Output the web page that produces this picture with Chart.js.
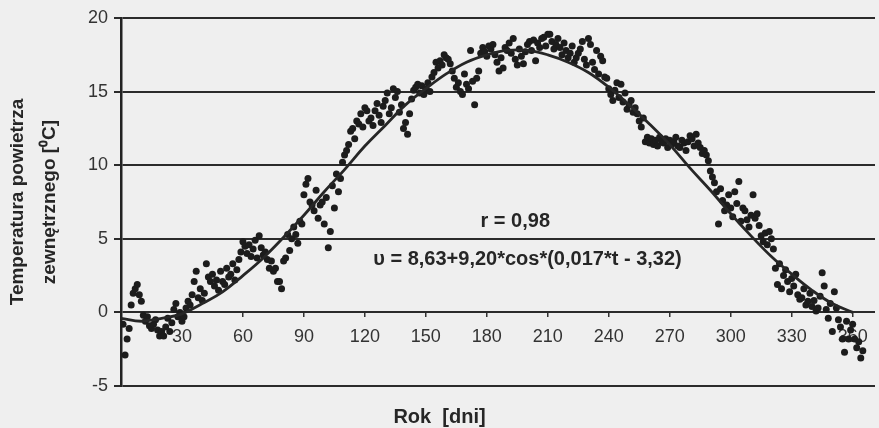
<!DOCTYPE html>
<html>
<head>
<meta charset="utf-8">
<script src="https://cdn.jsdelivr.net/npm/chart.js@4"></script>
<style>
    body { margin: 0; background: #efefef; }
    canvas { display: block; }
</style>
</head>
<body>
<canvas id="graph01" width="879" height="428"></canvas>
<script>
// mierzone temperatury dzienne, dzien 1..365
const tempDays = [
    -0.8, -2.9, -1.8, -1.1, 0.5, 1.3, 1.6, 1.9, 1.2, 0.75,
    -0.2, -0.6, -0.3, -0.9, -1.1, -0.8, -0.5, -1.2, -1.6, -1.3,
    -1.6, -1.0, -0.4, -1.3, -0.7, 0.2, 0.6, -0.3, 0.0, -0.6,
    -0.3, 0.3, 0.75, 0.5, 1.2, 2.1, 2.8, 1.0, 1.6, 0.8,
    1.3, 3.3, 2.4, 2.1, 2.6, 1.8, 2.2, 1.5, 2.8, 2.1,
    1.9, 3.0, 2.4, 2.6, 3.3, 2.2, 2.9, 3.6, 4.1, 4.8,
    4.5, 4.0, 4.6, 3.8, 4.3, 4.9, 3.7, 5.2, 4.4, 3.9,
    4.1, 3.6, 3.0, 3.5, 2.8, 3.0, 2.1, 2.1, 1.6, 3.5,
    3.7, 5.3, 4.2, 5.0, 5.8, 5.3, 4.7, 6.2, 6.0, 8.0,
    8.7, 9.1, 7.5, 7.3, 6.9, 8.3, 6.4, 7.3, 7.5, 6.0,
    7.8, 4.4, 5.5, 8.6, 7.1, 9.4, 8.2, 9.1, 10.2, 10.7,
    11.0, 11.4, 12.3, 12.5, 11.8, 13.0, 12.8, 13.5, 12.6, 13.9,
    13.7, 13.0, 13.2, 12.7, 13.7, 14.2, 13.4, 12.9, 14.0, 14.4,
    14.9, 13.5, 13.9, 15.2, 14.6, 15.0, 13.6, 14.1, 12.5, 12.9,
    12.1, 13.5, 14.5, 15.1, 15.3, 15.5, 14.9, 15.4, 14.8, 15.2,
    15.6, 15.0, 16.0, 16.3, 17.0, 16.6, 17.1, 16.8, 17.5, 17.3,
    17.2, 16.9, 16.4, 15.9, 15.3, 15.6, 15.0, 14.8, 16.2, 15.5,
    15.2, 17.8, 15.7, 14.1, 15.9, 16.4, 17.6, 18.0, 17.7, 17.4,
    18.1, 17.9, 18.2, 17.5, 17.0, 16.4, 17.3, 16.6, 18.0, 17.8,
    18.3, 17.6, 18.6, 17.2, 16.8, 17.9, 17.4, 16.9, 17.7, 18.2,
    18.4, 17.8, 18.5, 17.1, 18.3, 18.0, 18.6, 18.7, 18.1, 18.9,
    18.9, 18.4, 17.9, 18.2, 18.6, 18.0, 17.5, 18.3, 17.8, 17.3,
    17.6, 18.1, 17.0, 17.3, 17.6, 17.9, 18.4, 17.2, 16.8, 18.6,
    18.2, 17.0, 16.5, 17.8, 16.2, 17.4, 17.1, 16.0, 15.9, 15.2,
    14.8, 14.4, 15.1, 15.6, 14.6, 15.5, 14.3, 14.9, 13.8, 14.1,
    14.4, 13.6, 13.9, 13.5, 13.0, 12.6, 13.2, 11.6, 11.9, 11.5,
    11.8, 11.4, 11.7, 11.3, 11.9, 11.6, 11.5, 11.8, 11.2, 11.7,
    11.4, 11.6, 11.9, 11.3, 11.2, 11.7, 11.5, 11.0, 11.6, 12.0,
    11.8, 11.3, 12.1, 11.5, 11.2, 10.8, 11.0, 10.7, 10.3, 9.6,
    9.2, 8.8, 8.2, 6.0, 8.4, 7.6, 6.9, 7.3, 8.0, 7.1,
    6.5, 8.2, 7.4, 8.9, 6.2, 7.1, 6.9, 6.3, 5.8, 6.6,
    8.0, 6.4, 6.7, 5.9, 5.2, 4.8, 5.4, 4.6, 5.5, 5.0,
    4.3, 3.0, 1.9, 3.3, 1.6, 2.5, 2.9, 2.1, 1.4, 2.3,
    1.8, 2.6, 1.2, 0.9, 1.0, 1.6, 0.5, 0.75, 1.3, 0.4,
    0.8, 0.1, 0.3, 1.1, 2.7, 1.8, 0.2, -0.4, 0.6, -1.3,
    1.4, 0.3, -0.5, -1.0, -1.8, -2.7, -0.6, -1.8, -1.2, -0.8,
    -1.8, -2.4, -2.0, -3.1, -2.6
];

// krzywa dopasowana, odczytana co 10 dni
const fitDays = [0, 10, 20, 30, 40, 50, 60, 70, 80, 90, 100, 110, 120, 130, 140, 150, 160, 170, 180,
    190, 200, 210, 220, 230, 240, 250, 260, 270, 280, 290, 300, 310, 320, 330, 340, 350, 360];
const fitValues = [-0.4, -0.6, -0.4, -0.1, 0.6, 1.4, 2.5, 3.7, 5.1, 6.6, 8.2, 9.7, 11.3, 12.7, 14.1, 15.2, 16.2, 17.0, 17.5,
    17.8, 17.8, 17.5, 17.0, 16.3, 15.3, 14.1, 12.8, 11.4, 9.8, 8.3, 6.7, 5.2, 3.8, 2.6, 1.5, 0.6, 0.0];

const xTicks = [30, 60, 90, 120, 150, 180, 210, 240, 270, 300, 330, 360];
const yTicks = [-5, 0, 5, 10, 15, 20];

const rText = 'r = 0,98';
const eqText = 'υ = 8,63+9,20*cos*(0,017*t - 3,32)';

const FONT = '"Liberation Sans", Arial, sans-serif';
const INK = '#262626';

const graph = document.getElementById('graph01');

const points = tempDays.map((v, i) => ({ x: i + 1, y: v }));
const curve = fitDays.map((d, i) => ({ x: d, y: fitValues[i] }));

const labelsPlugin = {
    id: 'equationLabels',
    afterDatasetsDraw(chart) {
        const { ctx, scales } = chart;
        ctx.save();
        ctx.fillStyle = INK;
        ctx.font = 'bold 20px ' + FONT;
        ctx.textAlign = 'center';
        ctx.textBaseline = 'middle';
        ctx.fillText(rText, scales.x.getPixelForValue(194), scales.y.getPixelForValue(6.2));
        ctx.fillText(eqText, scales.x.getPixelForValue(200), scales.y.getPixelForValue(3.6));
        ctx.restore();
    }
};

new Chart(graph, {
    type: 'scatter',
    data: {
        datasets: [
            {
                type: 'line',
                data: curve,
                borderColor: INK,
                borderWidth: 2.8,
                pointRadius: 0,
                tension: 0.4,
                fill: false
            },
            {
                data: points,
                pointStyle: 'circle',
                pointRadius: 3.5,
                backgroundColor: '#1c1c1c',
                borderWidth: 0
            }
        ]
    },
    options: {
        responsive: false,
        animation: false,
        layout: { padding: { top: 18, right: 0, bottom: 0, left: 0 } },
        plugins: {
            legend: { display: false },
            tooltip: { enabled: false },
            title: {
                display: true,
                position: 'bottom',
                text: 'Rok  [dni]',
                color: INK,
                font: { family: FONT, size: 20, weight: 'bold', lineHeight: 1.1 },
                padding: { top: 20, bottom: 0 }
            }
        },
        scales: {
            x: {
                type: 'linear',
                position: { y: 0 },
                min: 0,
                max: 371,
                afterBuildTicks: scale => { scale.ticks = xTicks.map(v => ({ value: v })); },
                ticks: {
                    color: '#333',
                    font: { family: FONT, size: 18 },
                    padding: 9,
                    maxRotation: 0
                },
                grid: {
                    drawOnChartArea: false,
                    drawTicks: true,
                    tickLength: 5,
                    color: '#333',
                    lineWidth: 1.5
                },
                border: { display: false }
            },
            y: {
                min: -5,
                max: 20,
                afterBuildTicks: scale => { scale.ticks = yTicks.map(v => ({ value: v })); },
                afterFit: scale => { scale.width = 121; },
                ticks: {
                    color: '#333',
                    font: { family: FONT, size: 18 },
                    padding: 6
                },
                grid: {
                    color: '#2b2b2b',
                    lineWidth: 2,
                    tickLength: 7
                },
                border: { color: '#222', width: 2.5 },
                title: {
                    display: true,
                    text: ['Temperatura powietrza', 'zewnętrznego [⁰C]'],
                    color: INK,
                    font: { family: FONT, size: 19, weight: 'bold', lineHeight: 1.68 },
                    padding: { top: 2, bottom: 0 }
                }
            }
        }
    },
    plugins: [labelsPlugin]
});
</script>
</body>
</html>
